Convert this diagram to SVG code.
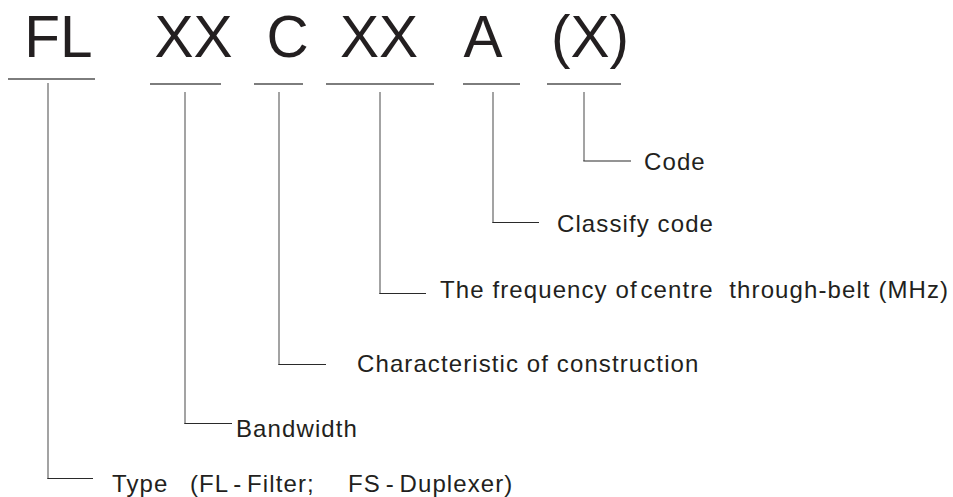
<svg xmlns="http://www.w3.org/2000/svg" width="953" height="497" viewBox="0 0 953 497">
<style>
.big{font-family:"Liberation Sans",Arial,sans-serif;font-size:58.5px;fill:#231f20;text-anchor:middle}
.lbl{font-family:"Liberation Sans",Arial,sans-serif;font-size:24px;letter-spacing:1.1px;fill:#231f20;white-space:pre}
.ul{stroke:#7d7d7d;stroke-width:2;fill:none}
.v{stroke:#858585;stroke-width:1.5;fill:none}
.h{stroke:#2a2a2a;stroke-width:1.1;fill:none}
</style>
<rect width="953" height="497" fill="#ffffff"/>
<g id="code-FL"><text class="big" x="58.5" y="57">FL</text><line class="ul" x1="8" y1="79" x2="95" y2="79"/></g>
<g id="code-XX1"><text class="big" x="193.5" y="57">XX</text><line class="ul" x1="150" y1="84" x2="221" y2="84"/></g>
<g id="code-C"><text class="big" x="287.5" y="57">C</text><line class="ul" x1="254" y1="84" x2="303" y2="84"/></g>
<g id="code-XX2"><text class="big" x="379" y="57">XX</text><line class="ul" x1="326" y1="84" x2="434" y2="84"/></g>
<g id="code-A"><text class="big" x="483" y="57">A</text><line class="ul" x1="463" y1="84" x2="520" y2="84"/></g>
<g id="code-X"><text class="big" x="590" y="57">(X)</text><line class="ul" x1="547" y1="84" x2="621" y2="84"/></g>
<g id="connectors">
<line class="v" x1="48" y1="83" x2="48" y2="478.5"/><line class="h" x1="47.3" y1="478.5" x2="93" y2="478.5"/>
<line class="v" x1="185" y1="92" x2="185" y2="423.5"/><line class="h" x1="184.3" y1="423.5" x2="232" y2="423.5"/>
<line class="v" x1="279" y1="92" x2="279" y2="364.5"/><line class="h" x1="278.3" y1="364.5" x2="326" y2="364.5"/>
<line class="v" x1="380" y1="92" x2="380" y2="293.5"/><line class="h" x1="379.3" y1="293.5" x2="426" y2="293.5"/>
<line class="v" x1="493" y1="92" x2="493" y2="222.5"/><line class="h" x1="492.3" y1="222.5" x2="539" y2="222.5"/>
<line class="v" x1="584" y1="92" x2="584" y2="161"/><line class="h" x1="583.3" y1="161" x2="631" y2="161"/>
</g>
<g id="label-code"><text class="lbl" x="644" y="170">Code</text></g>
<g id="label-classify"><text class="lbl" x="557" y="232">Classify code</text></g>
<g id="label-frequency"><text class="lbl" x="440" y="298">The frequency of<tspan dx="-5"> centre</tspan>  through-belt (MHz)</text></g>
<g id="label-characteristic"><text class="lbl" x="357" y="372">Characteristic of construction</text></g>
<g id="label-bandwidth"><text class="lbl" x="236" y="437">Bandwidth</text></g>
<g id="label-type"><text class="lbl" y="492"><tspan x="112">Type</tspan><tspan x="190" word-spacing="-3">(FL - Filter;</tspan><tspan x="348" word-spacing="-3">FS - Duplexer)</tspan></text></g>
</svg>
